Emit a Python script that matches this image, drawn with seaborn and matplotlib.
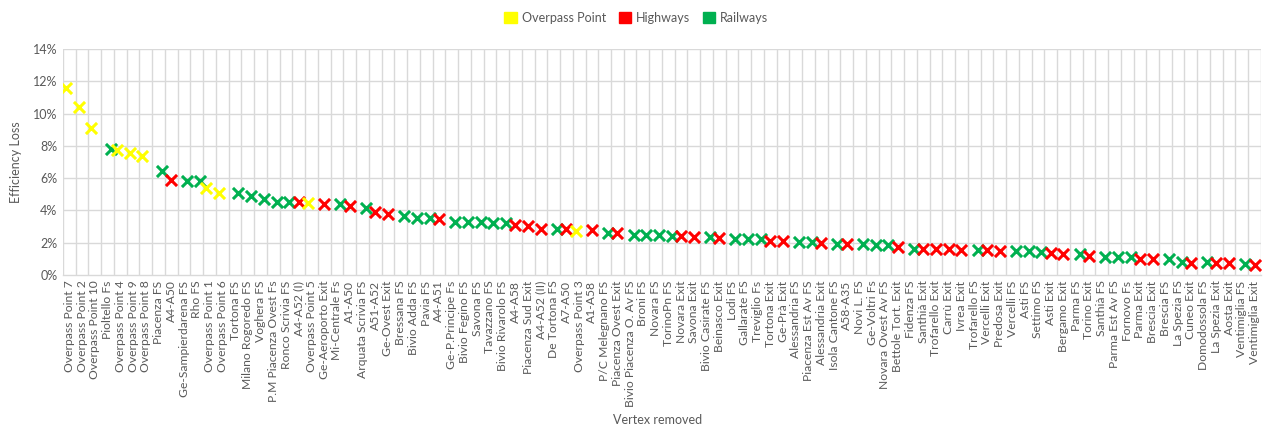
import matplotlib
matplotlib.use("Agg")
import matplotlib.pyplot as plt
from matplotlib.patches import Patch
import seaborn as sns
import pandas as pd
import numpy as np

vertices = [
    "Overpass Point 7", "Overpass Point 2", "Overpass Point 10", "Pioltello Fs",
    "Overpass Point 4", "Overpass Point 9", "Overpass Point 8", "Piacenza FS",
    "A4-A50", "Ge-Sampierdarena FS", "Rho FS", "Overpass Point 1",
    "Overpass Point 6", "Tortona FS", "Milano Rogoredo FS", "Voghera FS",
    "P.M Piacenza Ovest Fs", "Ronco Scrivia FS", "A4-A52 (I)", "Overpass Point 5",
    "Ge-Aeroporto Exit", "Mi-Centrale Fs", "A1-A50", "Arquata Scrivia FS",
    "A51-A52", "Ge-Ovest Exit", "Bressana FS", "Bivio Adda FS", "Pavia FS",
    "A4-A51", "Ge-P.Principe Fs", "Bivio Fegino FS", "Savona FS", "Tavazzano FS",
    "Bivio Rivarolo FS", "A4-A58", "Piacenza Sud Exit", "A4-A52 (II)",
    "De Tortona FS", "A7-A50", "Overpass Point 3", "A1-A58", "P/C Melegnano FS",
    "Piacenza Ovest Exit", "Bivio Piacenza O. Av FS", "Broni FS", "Novara FS",
    "TorinoPn FS", "Novara Exit", "Savona Exit", "Bivio Casirate FS",
    "Beinasco Exit", "Lodi FS", "Gallarate FS", "Treviglio Fs", "Tortona Exit",
    "Ge-Prà Exit", "Alessandria FS", "Piacenza Est Av FS", "Alessandria Exit",
    "Isola Cantone FS", "A58-A35", "Novi L. FS", "Ge-Voltri Fs",
    "Novara Ovest Av FS", "Bettole Tort. Exit", "Fidenza FS", "Santhià Exit",
    "Trofarello Exit", "Carrù Exit", "Ivrea Exit", "Trofarello FS",
    "Vercelli Exit", "Predosa Exit", "Vercelli FS", "Asti FS", "Settimo FS",
    "Asti Exit", "Bergamo Exit", "Parma FS", "Torino Exit", "Santhià FS",
    "Parma Est Av FS", "Fornovo Fs", "Parma Exit", "Brescia Exit", "Brescia FS",
    "La Spezia FS", "Cuneo Exit", "Domodossola FS", "La Spezia Exit",
    "Aosta Exit", "Ventimiglia FS", "Ventimiglia Exit",
]

# O = overpass point, H = highway, R = railway
kinds = list(
    "OOOROOOR"      # OP7 .. Piacenza FS
    "HRROOR"        # A4-A50 .. Tortona FS
    "RRRRHO"        # Milano Rogoredo .. Overpass Point 5
    "HRHRHH"        # Ge-Aeroporto .. Ge-Ovest Exit
    "RRRHRRRRR"     # Bressana .. Bivio Rivarolo
    "HHHRHOH"       # A4-A58 .. A1-A58
    "RHRRRRHHRH"    # P/C Melegnano .. Beinasco Exit
    "RRRHHRRH"      # Lodi .. Alessandria Exit
    "RHRRRH"        # Isola Cantone .. Bettole Tort. Exit
    "RHHHHRHH"      # Fidenza .. Predosa Exit
    "RRRHHRH"       # Vercelli FS .. Torino Exit
    "RRRHHRRHRHHRH" # Santhià FS .. Ventimiglia Exit
)

loss = [
    11.6, 10.4, 9.1, 7.8, 7.75, 7.55, 7.4, 6.45,
    5.9, 5.8, 5.8, 5.4, 5.1, 5.1,
    4.92, 4.7, 4.52, 4.5, 4.52, 4.45,
    4.38, 4.38, 4.25, 4.18, 3.9, 3.78,
    3.63, 3.56, 3.52, 3.49, 3.3, 3.29, 3.26, 3.25, 3.25,
    3.08, 3.03, 2.83, 2.85, 2.82, 2.75, 2.79,
    2.63, 2.58, 2.48, 2.47, 2.46, 2.44, 2.43, 2.38, 2.38, 2.27,
    2.21, 2.21, 2.2, 2.1, 2.09, 2.05, 2.04, 2.0,
    1.95, 1.9, 1.9, 1.86, 1.84, 1.73,
    1.63, 1.62, 1.62, 1.59, 1.52, 1.55, 1.52, 1.51,
    1.46, 1.46, 1.45, 1.39, 1.3, 1.3, 1.2,
    1.14, 1.14, 1.13, 0.99, 0.98, 0.96, 0.83, 0.76, 0.78, 0.77, 0.72, 0.68, 0.64,
]

kind_names = {"O": "Overpass Point", "H": "Highways", "R": "Railways"}
series_order = ["Overpass Point", "Highways", "Railways"]
series_colors = ["#FFFF00", "#FF0000", "#00B050"]

df = pd.DataFrame({
    "vertex": vertices,
    "loss": loss,
    "kind": [kind_names[k] for k in kinds],
})

sns.set_style("white")
plt.rcParams["font.family"] = ["Lato", "DejaVu Sans"]

fig = plt.figure(figsize=(12.65, 4.28), dpi=100)
ax = fig.add_axes([0.0498, 0.3575, 0.9470, 0.528])

sns.stripplot(
    data=df, x="vertex", y="loss", hue="kind", order=vertices,
    hue_order=series_order, palette=series_colors, dodge=True, jitter=False,
    marker="x", s=8, linewidth=2.2, ax=ax, legend=False, zorder=3,
)

ax.set_xlim(-0.5, len(vertices) - 0.5)
ax.set_ylim(0, 14)
ax.set_yticks(np.arange(0, 15, 2))
ax.set_yticklabels([f"{v}%" for v in range(0, 15, 2)])

# grid: horizontal at each 2 %, vertical between categories
for yv in np.arange(2, 15, 2):
    ax.axhline(yv, color="#D9D9D9", lw=1, zorder=0)
for xv in np.arange(-0.5, len(vertices), 1):
    ax.axvline(xv, color="#D9D9D9", lw=1, zorder=0)

for side in ["top", "right", "left"]:
    ax.spines[side].set_visible(False)
ax.spines["bottom"].set_color("#D9D9D9")
ax.spines["bottom"].set_linewidth(1)

ax.tick_params(axis="x", labelrotation=90, labelsize=8.7, colors="#595959",
               length=0, pad=4)
ax.tick_params(axis="y", labelsize=9, colors="#595959", length=0, pad=4)

ax.set_xlabel("Vertex removed", fontsize=9, color="#595959")
ax.set_ylabel("Efficiency Loss", fontsize=9, color="#595959", labelpad=8)
ax.xaxis.set_label_coords(0.52, 0.018, transform=fig.transFigure)
ax.xaxis.label.set_va("center")

handles = [Patch(facecolor=c, edgecolor=c, label=n)
           for n, c in zip(series_order, series_colors)]
leg = fig.legend(handles=handles, loc="center", bbox_to_anchor=(0.503, 0.958),
                 ncol=3, frameon=False, fontsize=9, handlelength=1.0,
                 handleheight=1.0, handletextpad=0.4, columnspacing=1.0)
for t in leg.get_texts():
    t.set_color("#595959")

fig.savefig("out.png", dpi=100)
